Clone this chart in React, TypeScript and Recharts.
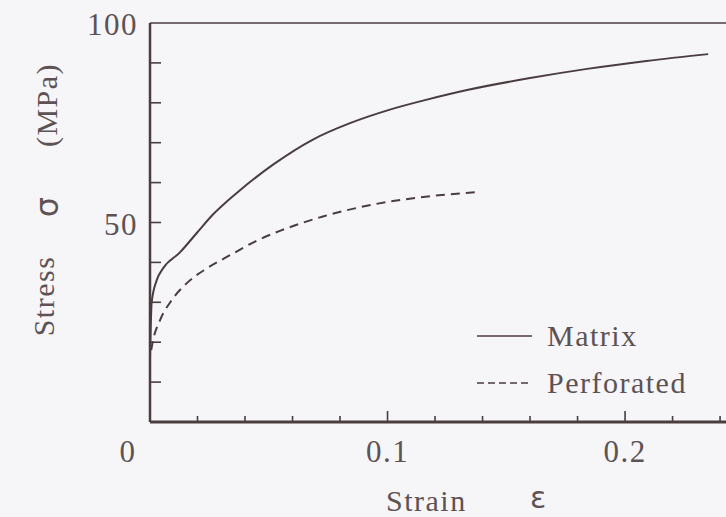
import React from "react";
import { LineChart, Line, XAxis, YAxis, ReferenceLine, Legend, Label } from "recharts";

// stress-strain readings (strain, MPa)
const matrixStrain = [0, 0.0007, 0.0028, 0.0055, 0.0126, 0.0196, 0.0265, 0.0328, 0.0379, 0.0518, 0.0686, 0.0842, 0.101, 0.1166, 0.1335, 0.16, 0.184, 0.209, 0.235];
const matrixStress = [16, 30, 35.5, 38.5, 42.5, 47.3, 52, 55.5, 58.1, 64.5, 70.8, 74.9, 78.3, 80.8, 83.2, 86.2, 88.5, 90.5, 92.2];

const perfStrain = [0.0005, 0.0013, 0.0042, 0.0091, 0.0155, 0.0239, 0.0337, 0.0455, 0.0547, 0.0728, 0.0939, 0.115, 0.1376];
const perfStress = [18, 20.5, 25.5, 30.5, 34.8, 38.5, 41.8, 45.6, 47.9, 51.5, 54.5, 56.4, 57.6];

const strainTicks = [0, 0.02, 0.04, 0.06, 0.08, 0.1, 0.12, 0.14, 0.16, 0.18, 0.2, 0.22, 0.24];
const strainTickLabels = ["0", "", "", "", "", "0.1", "", "", "", "", "0.2", "", ""];
const stressTicks = [0, 10, 20, 30, 40, 50, 60, 70, 80, 90, 100];
const stressTickLabels = ["", "", "", "", "", "50", "", "", "", "", "100"];

const seriesNames = ["Matrix", "Perforated"];

const matrixData = matrixStrain.map((s, i) => ({ strain: s, stress: matrixStress[i] }));
const perfData = perfStrain.map((s, i) => ({ strain: s, stress: perfStress[i] }));

const INK = "#4a3d40";
const TEXT = "#5d5254";
const SERIF = "'Liberation Serif', 'Times New Roman', serif";
const SANS = "'DejaVu Sans', sans-serif";

const StrainTick = (props: any) => {
  const { x, y, payload } = props;
  const idx = strainTicks.indexOf(payload.value);
  const label = strainTickLabels[idx];
  const major = label !== "";
  return (
    <g>
      {payload.value !== 0 && (
        <line x1={x} y1={y} x2={x} y2={y - (major ? 11 : 6)} stroke={INK} strokeWidth={1.6} />
      )}
      {label && (
        <text
          x={payload.value === 0 ? x - 22 : x}
          y={y + 40}
          textAnchor="middle"
          fontFamily={SERIF}
          fontSize={31}
          letterSpacing={1.5}
          fill={TEXT}
        >
          {label}
        </text>
      )}
    </g>
  );
};

const StressTick = (props: any) => {
  const { x, y, payload } = props;
  const idx = stressTicks.indexOf(payload.value);
  const label = stressTickLabels[idx];
  return (
    <g>
      {payload.value !== 0 && payload.value !== 100 && (
        <line x1={x} y1={y} x2={x + 11} y2={y} stroke={INK} strokeWidth={1.6} />
      )}
      {label && (
        <text x={x - 12} y={y + 12} textAnchor="end" fontFamily={SERIF} fontSize={31} letterSpacing={1.5} fill={TEXT}>
          {label}
        </text>
      )}
    </g>
  );
};

// rotated axis title, split in three parts along the y axis
const StressTitle = (props: any) => {
  const { viewBox } = props;
  const axisX = viewBox.x + viewBox.width;
  const top = viewBox.y;
  return (
    <g fill={TEXT}>
      <text
        transform={`translate(${axisX - 96}, ${top + 273}) rotate(-90)`}
        textAnchor="middle"
        fontFamily={SERIF}
        fontSize={30}
        letterSpacing={1.5}
      >
        Stress
      </text>
      <text
        transform={`translate(${axisX - 92}, ${top + 184}) rotate(-90)`}
        textAnchor="middle"
        fontFamily={SANS}
        fontSize={32}
      >
        σ
      </text>
      <text
        transform={`translate(${axisX - 93}, ${top + 82}) rotate(-90)`}
        textAnchor="middle"
        fontFamily={SERIF}
        fontSize={30}
        letterSpacing={1.5}
      >
        (MPa)
      </text>
    </g>
  );
};

const StrainTitle = (props: any) => {
  const { viewBox } = props;
  const top = viewBox.y;
  return (
    <g fill={TEXT}>
      <text x={386} y={top + 89} fontFamily={SERIF} fontSize={30} letterSpacing={1.5}>
        Strain
      </text>
      <text x={538} y={top + 86} textAnchor="middle" fontFamily={SANS} fontSize={30}>
        ε
      </text>
    </g>
  );
};

const legendDash = ["", "7 4"];

const LegendBox = (props: any) => {
  const { payload } = props;
  return (
    <div style={{ fontFamily: SERIF, fontSize: 30, color: TEXT, letterSpacing: 1.5 }}>
      {(payload || []).map((entry: any, i: number) => (
        <div key={entry.value} style={{ display: "flex", alignItems: "center", height: 47 }}>
          <svg width={57} height={10} style={{ display: "block" }}>
            <line x1={1} y1={5} x2={56} y2={5} stroke={INK} strokeWidth={1.6} strokeDasharray={legendDash[i] || undefined} />
          </svg>
          <span style={{ marginLeft: 14, lineHeight: "30px" }}>{entry.value}</span>
        </div>
      ))}
    </div>
  );
};

export default function App() {
  return (
    <div style={{ position: "absolute", left: 0, top: 0, width: 726, height: 517, background: "#f6f6f8", overflow: "hidden" }}>
      <LineChart width={726} height={517} margin={{ top: 23, right: 0, bottom: 55, left: 90 }}>
        <XAxis
          dataKey="strain"
          type="number"
          domain={[0, 0.2425]}
          ticks={strainTicks}
          allowDataOverflow
          height={40}
          tickSize={0}
          tickMargin={0}
          tickLine={false}
          tick={<StrainTick />}
          axisLine={{ stroke: INK, strokeWidth: 3 }}
          interval={0}
        >
          <Label content={<StrainTitle />} />
        </XAxis>
        <YAxis
          type="number"
          domain={[0, 100]}
          ticks={stressTicks}
          width={60}
          tickSize={0}
          tickMargin={0}
          tickLine={false}
          tick={<StressTick />}
          axisLine={{ stroke: INK, strokeWidth: 2.5 }}
          interval={0}
        >
          <Label content={<StressTitle />} />
        </YAxis>
        <ReferenceLine y={100} stroke={INK} strokeWidth={1.6} />
        <Legend
          layout="vertical"
          align="center"
          verticalAlign="middle"
          content={<LegendBox />}
          wrapperStyle={{ position: "absolute", left: 476, top: 312, width: "auto" }}
        />
        <Line
          data={matrixData}
          dataKey="stress"
          name={seriesNames[0]}
          type="monotone"
          stroke={INK}
          strokeWidth={2}
          dot={false}
          isAnimationActive={false}
        />
        <Line
          data={perfData}
          dataKey="stress"
          name={seriesNames[1]}
          type="monotone"
          stroke={INK}
          strokeWidth={2}
          strokeDasharray="9 6"
          dot={false}
          isAnimationActive={false}
        />
      </LineChart>
    </div>
  );
}
